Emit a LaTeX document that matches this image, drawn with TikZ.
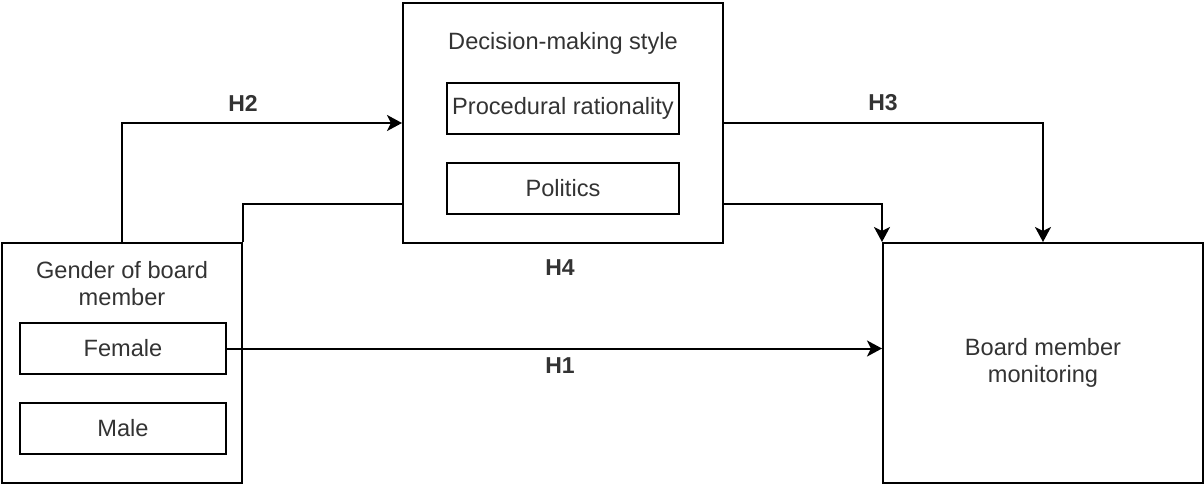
\documentclass[tikz,border=0pt]{standalone}
\usepackage{fontspec}
\setmainfont{Liberation Sans}
\usetikzlibrary{positioning,arrows.meta}

\begin{document}
\begin{tikzpicture}[x=0.5pt,y=-0.5pt]
        \tikzset{Box/.style={draw, line width=1pt, inner sep=0pt},
          BigBox/.style={Box, minimum height=120pt},
          SubBox/.style={Box, minimum height=25.5pt},
          Title/.style={align=center, text=black!80, font=\fontsize{11.8}{13.5}\selectfont},
          HLabel/.style={text=black!80, font=\fontsize{11.5}{13.5}\selectfont\bfseries},
          EdgeStyle/.style={line width=1pt, -{Stealth[length=7.5pt,width=8pt,inset=2pt]}}}

        \useasboundingbox (0,0) rectangle (1204,484);

        \node[BigBox, minimum width=120pt](gender) at (122,363){};
        \node[BigBox, minimum width=160pt](style) at (563,123){};
        \node[BigBox, minimum width=160pt, Title](monitor) at (1043,363){Board member\\monitoring};

        \node[Title](gendert) at (122,284){Gender of board\\member};
        \node[SubBox, minimum width=103pt, Title](female) at (123,348.5){Female};
        \node[SubBox, minimum width=103pt, Title](male) at (123,428.5){Male};

        \node[Title](stylet) at (563,43){Decision-making style};
        \node[SubBox, minimum width=116pt, Title](proc) at (563,108){Procedural rationality};
        \node[SubBox, minimum width=116pt, Title](pol) at (563,188){Politics};

        \draw[EdgeStyle] (gender.north) |- (style.west);
        \draw[line width=1pt] (gender.north east) |- ([yshift=20pt]style.south west);
        \draw[EdgeStyle] ([yshift=20pt]style.south east) -| (monitor.north west);
        \draw[EdgeStyle] (style.east) -| (monitor.north);
        \draw[EdgeStyle] (female.east) -- (female.east -| monitor.west);

        \node[HLabel](h2) at (243,103){H2};
        \node[HLabel](h3) at (883,103){H3};
        \node[HLabel](h4) at (560,268){H4};
        \node[HLabel](h1) at (560,366){H1};
      \end{tikzpicture}
\end{document}
